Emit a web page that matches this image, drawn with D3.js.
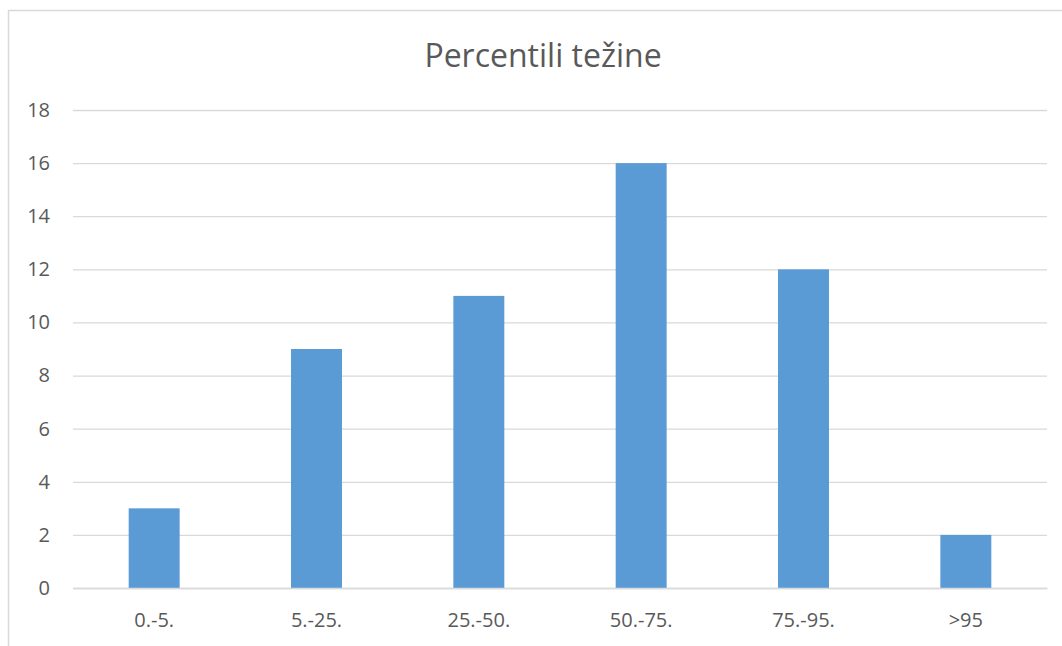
<!DOCTYPE html>
<html><head><meta charset="utf-8">
<script src="https://cdn.jsdelivr.net/npm/d3@7"></script>
<style>
html,body{margin:0;padding:0;background:#fff;}
svg{display:block;}
text{font-family:"Open Sans","Noto Sans",sans-serif;fill:#595959;}
</style></head><body>
<svg id="c" width="1062" height="646"></svg>
<script>
const categories = ["0.-5.", "5.-25.", "25.-50.", "50.-75.", "75.-95.", ">95"];
const values = [3, 9, 11, 16, 12, 2];
const yTicks = [0, 2, 4, 6, 8, 10, 12, 14, 16, 18];
const title = "Percentili težine";

const svg = d3.select("#c");
const W = 1062, H = 646;
const m = {left: 73, right: 15, top: 110, bottom: 58};

svg.append("rect").attr("x", 8.5).attr("y", 10.5).attr("width", 1062).attr("height", 660)
  .attr("fill", "#fff").attr("stroke", "#d9d9d9").attr("stroke-width", 1.5);

const x = d3.scaleBand().domain(categories).range([m.left, W - m.right]).paddingInner(0.686).paddingOuter(0.343);
const y = d3.scaleLinear().domain([0, 18]).range([H - m.bottom, m.top]);

const yAxis = d3.axisLeft(y).tickValues(yTicks).tickSize(-(W - m.right - m.left)).tickPadding(23);
const gy = svg.append("g").attr("transform", `translate(${m.left},0)`).call(yAxis);
gy.attr("font-family", null).attr("font-size", null);
gy.select(".domain").remove();
gy.selectAll(".tick line").attr("stroke", "#d9d9d9").attr("stroke-width", 1.3);
gy.selectAll(".tick text").style("font-size", "20px").style("fill", "#595959");

svg.append("g").selectAll("rect").data(values).join("rect")
  .attr("x", (d, i) => x(categories[i]))
  .attr("width", x.bandwidth())
  .attr("y", d => y(d))
  .attr("height", d => y(0) - y(d))
  .attr("fill", "#5b9bd5");

const xAxis = d3.axisBottom(x).tickSize(0).tickPadding(25);
const gx = svg.append("g").attr("transform", `translate(0,${y(0)})`).call(xAxis);
gx.attr("font-family", null).attr("font-size", null);
gx.select(".domain").attr("stroke", "#d9d9d9").attr("stroke-width", 1.3);
gx.selectAll(".tick text").style("font-size", "20px").style("fill", "#595959");

svg.append("text").attr("x", 543).attr("y", 67).attr("text-anchor", "middle")
  .style("font-size", "32px").text(title);
</script></body></html>
